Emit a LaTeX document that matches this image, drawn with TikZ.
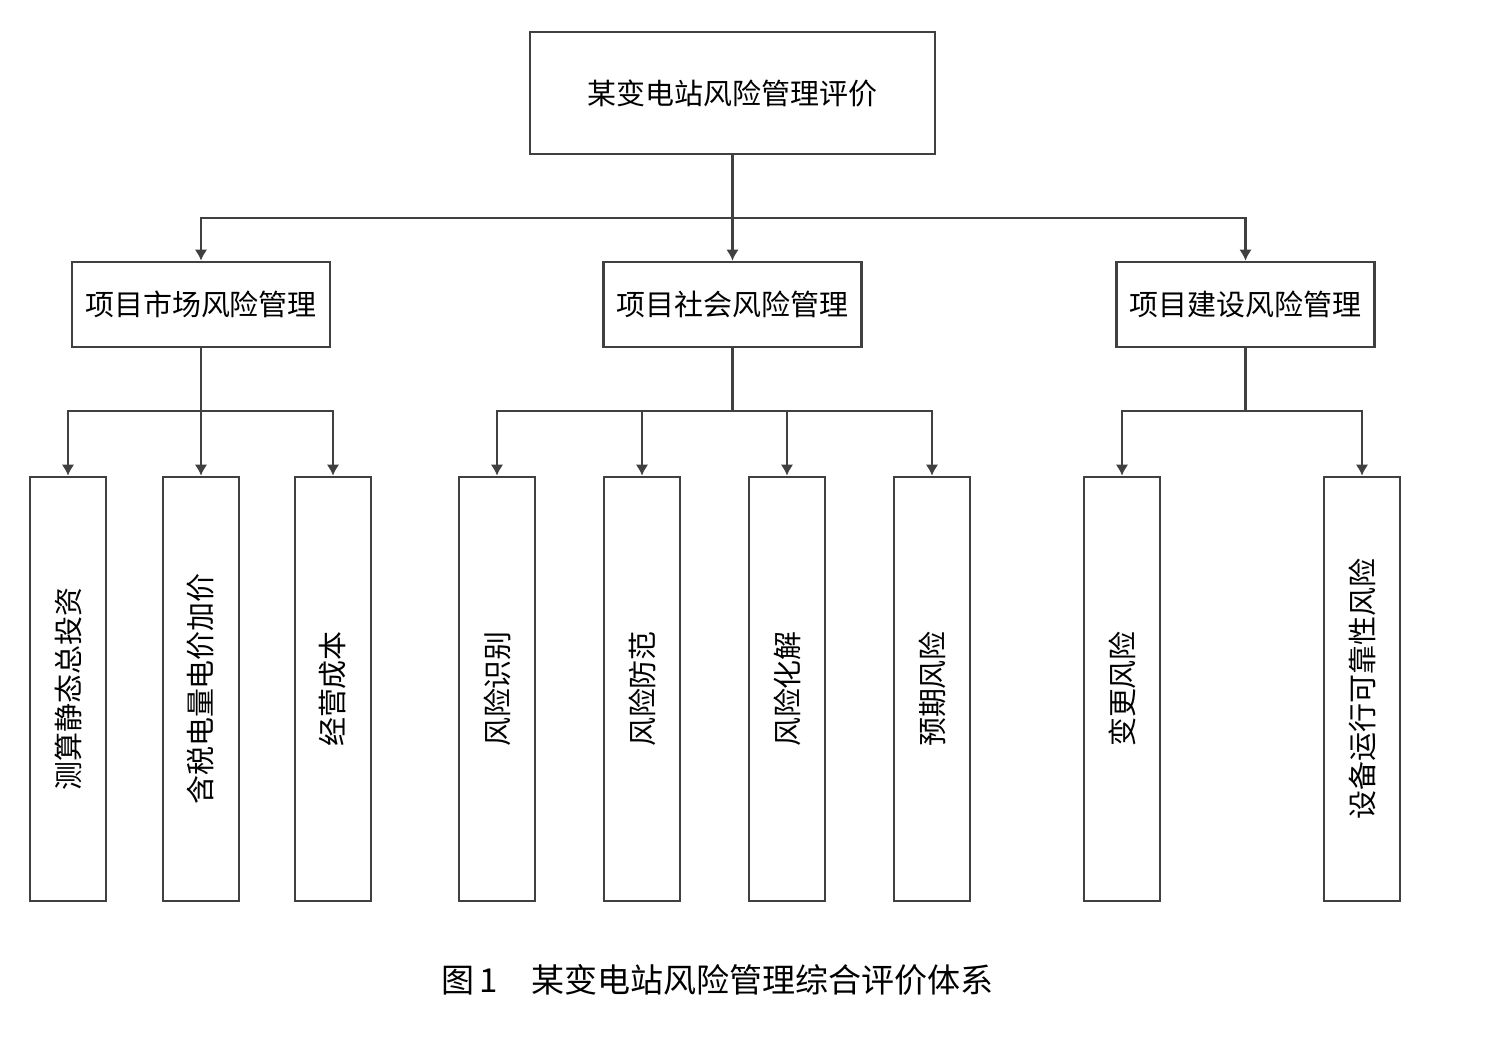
\documentclass[tikz,border=0pt]{standalone}
\usepackage{fontspec}
\setmainfont{Noto Sans CJK SC}
\usepackage{graphicx}
\usepackage{tikz}
\usetikzlibrary{arrows.meta}
\definecolor{linegray}{HTML}{404040}
\tikzset{risk_tree/.style={x=0.02cm,y=-0.02cm,line width=1.5pt,draw=linegray,>={Latex[length=0.22cm,width=0.25cm]}}}
\tikzset{root_box/.style={draw=linegray,line width=1.5pt,inner sep=0pt,minimum width=8.1cm,minimum height=2.44cm}}
\tikzset{mid_box/.style={draw=linegray,line width=1.5pt,inner sep=0pt,minimum width=5.16cm,minimum height=1.7cm}}
\tikzset{leaf_box/.style={draw=linegray,line width=1.5pt,inner sep=0pt,minimum width=1.52cm,minimum height=8.48cm}}

\begin{document}
\begin{tikzpicture}[risk_tree]
    \fontsize{16.5}{20}\selectfont
    \useasboundingbox (0,0) rectangle (1500,1040);
    %\draw[help lines] (0,0) grid (1500,1040);
    \node[root_box] (root) at (732.5,93) {某变电站风险管理评价};

    \node[mid_box] (market) at (201,304.5) {项目市场风险管理};
    \node[mid_box] (social) at (732.5,304.5) {项目社会风险管理};
    \node[mid_box] (build) at (1245.5,304.5) {项目建设风险管理};

    \node[leaf_box] (m1) at (68,689) {\rotatebox{90}{测算静态总投资}};
    \node[leaf_box] (m2) at (201,689) {\rotatebox{90}{含税电量电价加价}};
    \node[leaf_box] (m3) at (333,689) {\rotatebox{90}{经营成本}};
    \node[leaf_box] (s1) at (497,689) {\rotatebox{90}{风险识别}};
    \node[leaf_box] (s2) at (642,689) {\rotatebox{90}{风险防范}};
    \node[leaf_box] (s3) at (787,689) {\rotatebox{90}{风险化解}};
    \node[leaf_box] (s4) at (932,689) {\rotatebox{90}{预期风险}};
    \node[leaf_box] (b1) at (1122,689) {\rotatebox{90}{变更风险}};
    \node[leaf_box] (b2) at (1362,689) {\rotatebox{90}{设备运行可靠性风险}};

    \coordinate (j0) at (732.5,218);
    \coordinate (jm) at (201,411);
    \coordinate (js) at (732.5,411);
    \coordinate (jb) at (1245.5,411);

    \draw (root.south) -- (j0);
    \draw[->] (j0) -| (market.north);
    \draw[->] (j0) -- (social.north);
    \draw[->] (j0) -| (build.north);

    \draw (market.south) -- (jm);
    \foreach \leaf in {m1,m2,m3} \draw[->] (jm) -| (\leaf.north);
    \draw (social.south) -- (js);
    \foreach \leaf in {s1,s2,s3,s4} \draw[->] (js) -| (\leaf.north);
    \draw (build.south) -- (jb);
    \foreach \leaf in {b1,b2} \draw[->] (jb) -| (\leaf.north);

    \node[font=\fontsize{18.8}{22}\selectfont] (caption) at (717.5,980) {图\,1\hspace{1em}某变电站风险管理综合评价体系};
\end{tikzpicture}
\end{document}
